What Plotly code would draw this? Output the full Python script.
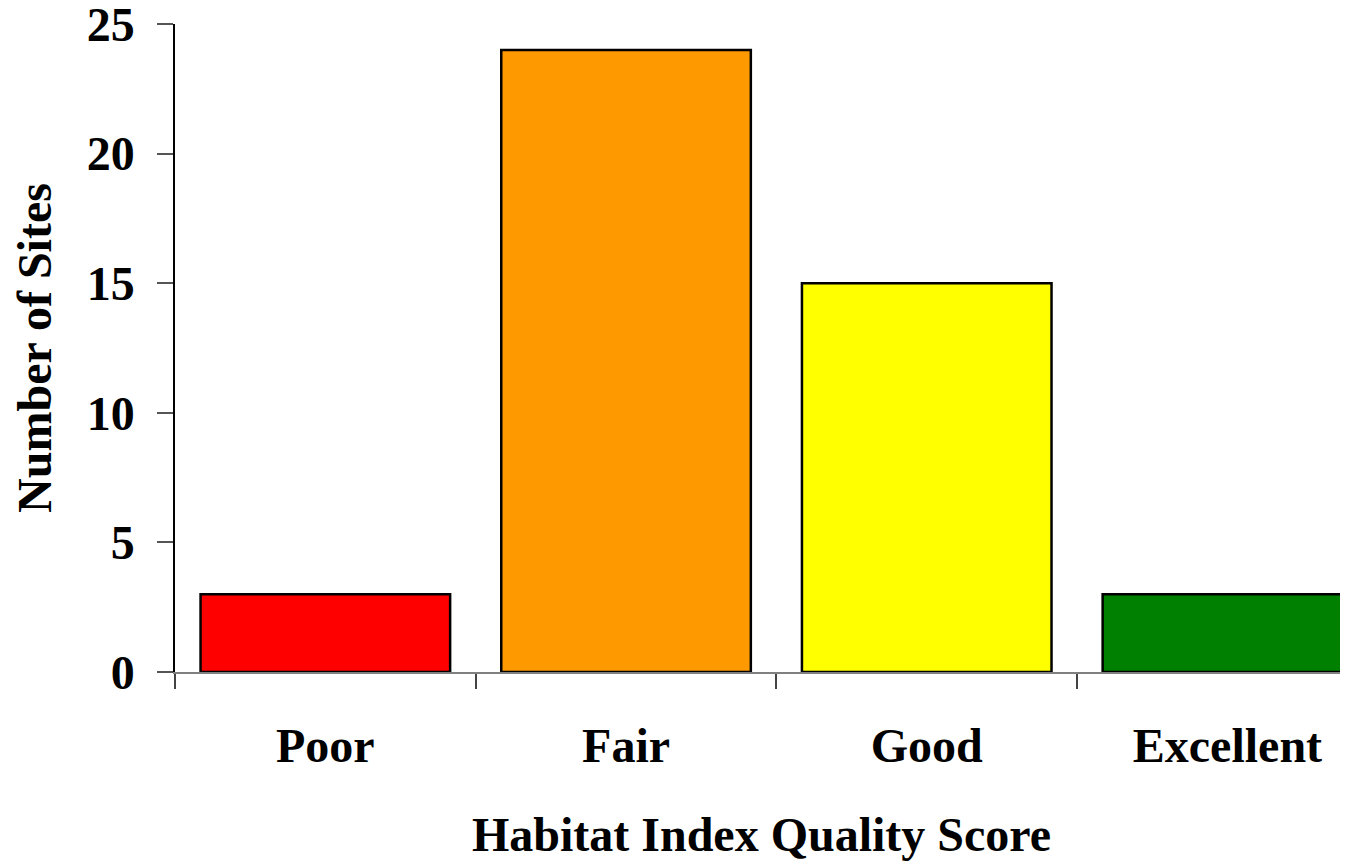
import plotly.graph_objects as go

categories = ["Poor", "Fair", "Good", "Excellent"]
sites = [3, 24, 15, 3]
bar_colors = ["#FF0000", "#FF9900", "#FFFF00", "#008000"]
y_ticks = [0, 5, 10, 15, 20, 25]

font_family = "Liberation Serif, Times New Roman, serif"

fig = go.Figure(
    go.Bar(
        x=categories,
        y=sites,
        width=0.83,
        marker=dict(color=bar_colors, line=dict(color="black", width=2.5)),
    )
)

# the page body adds an 8px offset; size and margins compensate for it
fig.update_layout(
    width=1340,
    height=853,
    margin=dict(l=167, r=0, t=16, b=189),
    plot_bgcolor="white",
    paper_bgcolor="white",
    showlegend=False,
    font=dict(family=font_family, size=48, color="black"),
)

fig.update_xaxes(
    type="category",
    range=[-0.5, 3.401],
    automargin=False,
    tickson="boundaries",
    ticks="outside",
    ticklen=15,
    tickwidth=1.5,
    tickcolor="#444",
    showline=True,
    linecolor="#808080",
    linewidth=2,
    showgrid=False,
    tickfont=dict(family=font_family, size=48, color="black", weight="bold"),
    ticklabelstandoff=30,
    ticklabeloverflow="allow",
    title=dict(
        text="<b>Habitat Index Quality Score</b>",
        font=dict(family=font_family, size=48, color="black"),
        standoff=48,
    ),
)

fig.update_yaxes(
    range=[0, 25],
    automargin=False,
    tickvals=y_ticks,
    ticks="outside",
    ticklen=16,
    tickwidth=1.5,
    tickcolor="#555",
    showline=True,
    linecolor="black",
    linewidth=1.5,
    showgrid=False,
    zeroline=False,
    tickfont=dict(family=font_family, size=48, color="black", weight="bold"),
    ticklabelstandoff=13,
    ticklabeloverflow="allow",
    title=dict(
        text="<b>Number of Sites</b>",
        font=dict(family=font_family, size=48, color="black"),
        standoff=25,
    ),
)

fig.write_html("out.html")
